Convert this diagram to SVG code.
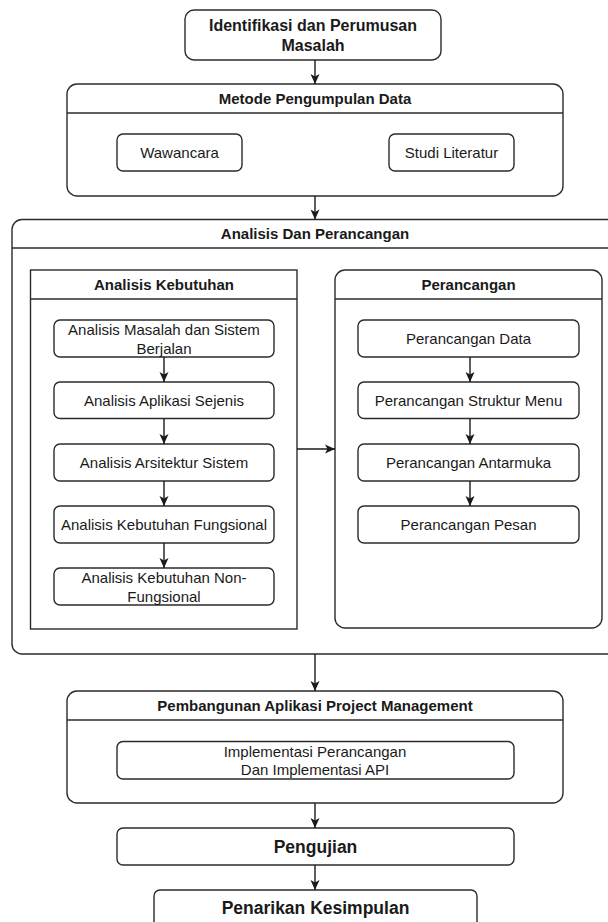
<svg xmlns="http://www.w3.org/2000/svg" width="608" height="922" viewBox="0 0 608 922">
<style>
.b{fill:#fff;stroke:#2b2b2b;stroke-width:1.4}
.l{stroke:#2b2b2b;stroke-width:1.4;fill:none}
.c{stroke:#1a1a1a;stroke-width:1.4;fill:none;marker-end:url(#ah)}
text{font-family:"Liberation Sans",Arial,sans-serif;fill:#1a1a1a;text-anchor:middle}
.h{font-weight:bold;font-size:15px}
.n{font-size:15px}
.t{font-weight:bold;font-size:16px}
.p{font-weight:bold;font-size:17.5px}
</style>
<defs>
<marker id="ah" markerUnits="userSpaceOnUse" markerWidth="12" markerHeight="12" refX="11" refY="6" orient="auto">
<path d="M1,1.5 L11,6 L1,10.5 L3.5,6 z" fill="#1a1a1a"/>
</marker>
</defs>
<rect width="608" height="922" fill="#fff"/>
<g id="identifikasi">
<rect class="b" x="185" y="10" width="256" height="50" rx="9"/>
<text class="t" x="313" y="30.7">Identifikasi dan Perumusan</text>
<text class="t" x="313" y="50.7">Masalah</text>
</g>
<g id="metode">
<rect class="b" x="67" y="84" width="496" height="112" rx="10"/>
<line class="l" x1="67" y1="113" x2="563" y2="113"/>
<text class="h" x="315" y="104">Metode Pengumpulan Data</text>
</g>
<g id="wawancara">
<rect class="b" x="117" y="134" width="125" height="37" rx="6"/>
<text class="n" x="179.5" y="157.8">Wawancara</text>
</g>
<g id="studi">
<rect class="b" x="389" y="134" width="125" height="37" rx="6"/>
<text class="n" x="451.5" y="157.8">Studi Literatur</text>
</g>
<g id="analisis-perancangan">
<rect class="b" x="12" y="219.5" width="606" height="434.5" rx="10"/>
<line class="l" x1="12" y1="248" x2="618" y2="248"/>
<text class="h" x="315" y="239.3">Analisis Dan Perancangan</text>
</g>
<g id="analisis-kebutuhan">
<rect class="b" x="30.5" y="270" width="266.5" height="359"/>
<line class="l" x1="30.5" y1="299" x2="297" y2="299"/>
<text class="h" x="164" y="290">Analisis Kebutuhan</text>
</g>
<g id="perancangan">
<rect class="b" x="335" y="270" width="267" height="358" rx="10"/>
<line class="l" x1="335" y1="299" x2="602" y2="299"/>
<text class="h" x="468.5" y="290">Perancangan</text>
</g>
<g id="ak1">
<rect class="b" x="54" y="320" width="220" height="37" rx="6"/>
<text class="n" x="164" y="334.6">Analisis Masalah dan Sistem</text>
<text class="n" x="164" y="353.6">Berjalan</text>
</g>
<g id="ak2">
<rect class="b" x="54" y="382" width="220" height="36.5" rx="6"/>
<text class="n" x="164" y="405.6">Analisis Aplikasi Sejenis</text>
</g>
<g id="ak3">
<rect class="b" x="54" y="444" width="220" height="37" rx="6"/>
<text class="n" x="164" y="467.8">Analisis Arsitektur Sistem</text>
</g>
<g id="ak4">
<rect class="b" x="54" y="506" width="220" height="37" rx="6"/>
<text class="n" x="164" y="529.8">Analisis Kebutuhan Fungsional</text>
</g>
<g id="ak5">
<rect class="b" x="54" y="568" width="220" height="37" rx="6"/>
<text class="n" x="164" y="583">Analisis Kebutuhan Non-</text>
<text class="n" x="164" y="602">Fungsional</text>
</g>
<g id="pr1">
<rect class="b" x="358" y="320" width="221" height="37" rx="6"/>
<text class="n" x="468.5" y="343.8">Perancangan Data</text>
</g>
<g id="pr2">
<rect class="b" x="358" y="382" width="221" height="36.5" rx="6"/>
<text class="n" x="468.5" y="405.6">Perancangan Struktur Menu</text>
</g>
<g id="pr3">
<rect class="b" x="358" y="444" width="221" height="37" rx="6"/>
<text class="n" x="468.5" y="467.8">Perancangan Antarmuka</text>
</g>
<g id="pr4">
<rect class="b" x="358" y="506" width="221" height="37" rx="6"/>
<text class="n" x="468.5" y="529.8">Perancangan Pesan</text>
</g>
<g id="pembangunan">
<rect class="b" x="67" y="691" width="496" height="112" rx="10"/>
<line class="l" x1="67" y1="720" x2="563" y2="720"/>
<text class="h" x="315" y="711">Pembangunan Aplikasi Project Management</text>
</g>
<g id="implementasi">
<rect class="b" x="117" y="741.5" width="397" height="37.5" rx="6"/>
<text class="n" x="315" y="756.5">Implementasi Perancangan</text>
<text class="n" x="315" y="775">Dan Implementasi API</text>
</g>
<g id="pengujian">
<rect class="b" x="117" y="828" width="397" height="37" rx="6"/>
<text class="p" x="315.5" y="853">Pengujian</text>
</g>
<g id="penarikan">
<rect class="b" x="154" y="890" width="323" height="50" rx="6"/>
<text class="p" x="315.5" y="914">Penarikan Kesimpulan</text>
</g>
<g id="connectors">
<line class="c" x1="315" y1="60" x2="315" y2="84"/>
<line class="c" x1="315" y1="196" x2="315" y2="219.5"/>
<line class="c" x1="164" y1="357" x2="164" y2="382"/>
<line class="c" x1="164" y1="418.5" x2="164" y2="444"/>
<line class="c" x1="164" y1="481" x2="164" y2="506"/>
<line class="c" x1="164" y1="543" x2="164" y2="568"/>
<line class="c" x1="470" y1="357" x2="470" y2="382"/>
<line class="c" x1="470" y1="418.5" x2="470" y2="444"/>
<line class="c" x1="470" y1="481" x2="470" y2="506"/>
<line class="c" x1="297" y1="449" x2="335" y2="449"/>
<line class="c" x1="315" y1="654" x2="315" y2="691"/>
<line class="c" x1="315" y1="803" x2="315" y2="828"/>
<line class="c" x1="315" y1="865" x2="315" y2="890"/>
</g>
</svg>
